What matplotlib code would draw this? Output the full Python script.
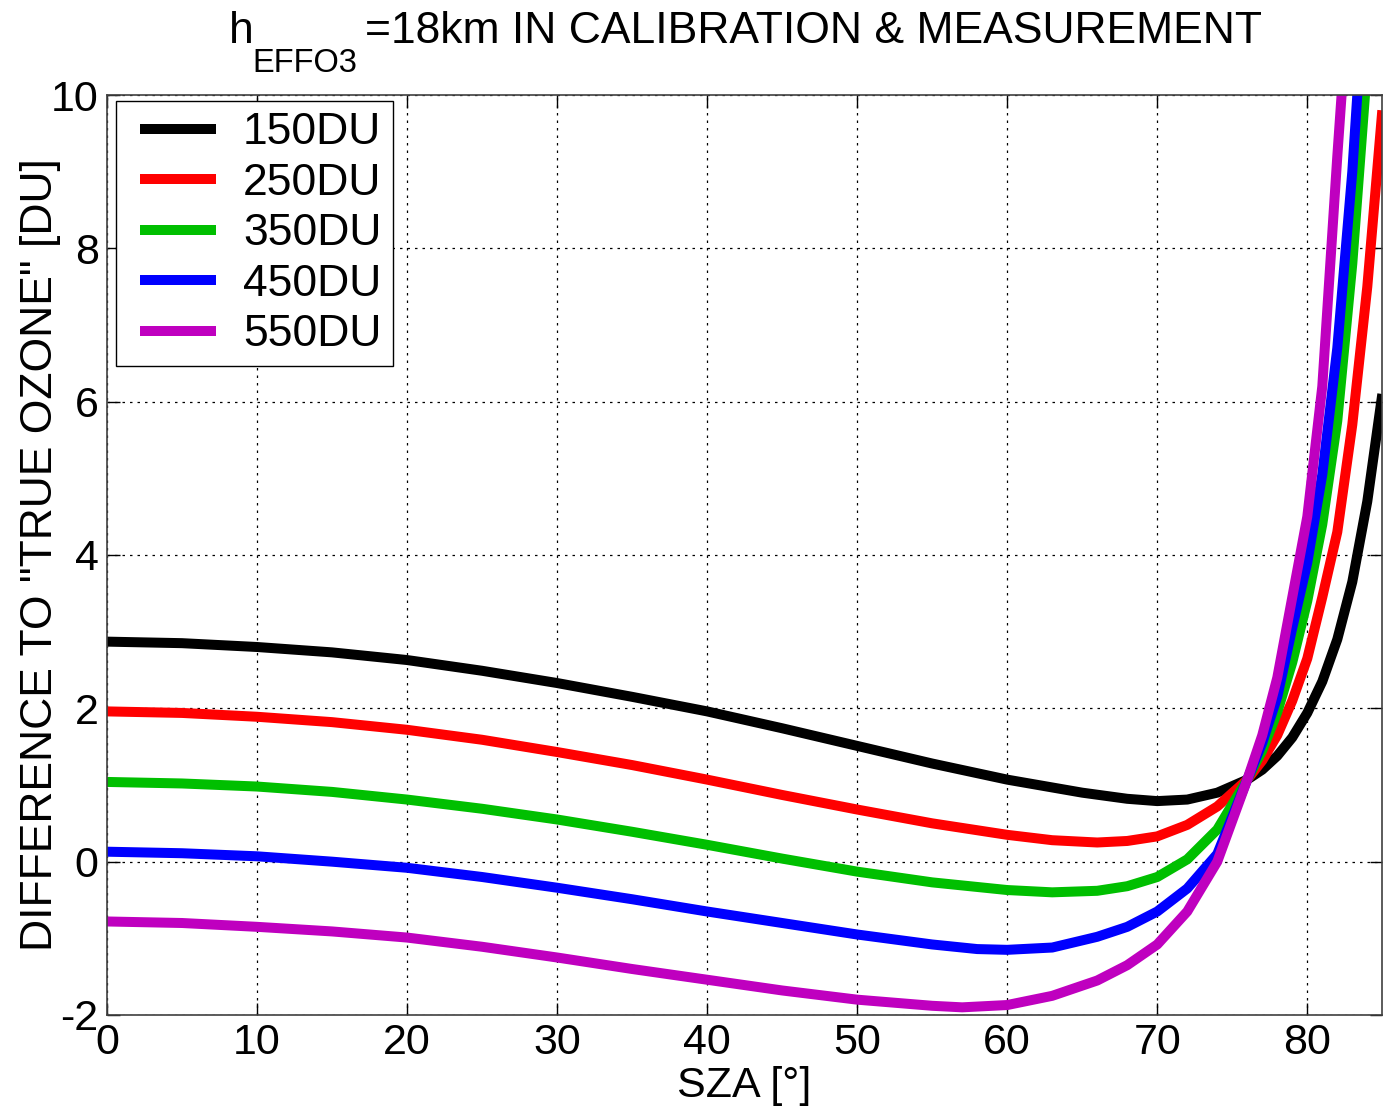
import numpy as np
import matplotlib
matplotlib.use("Agg")
import matplotlib.pyplot as plt
from matplotlib.legend_handler import HandlerLine2D

plt.rcParams['font.family'] = ['Liberation Sans', 'DejaVu Sans']
plt.rcParams['axes.unicode_minus'] = False

# SZA [deg] and difference to true ozone [DU] for each total ozone column
sza_150 = [0, 5, 10, 15, 20, 25, 30, 35, 40, 45, 50, 55, 60, 65, 68, 70, 72, 74, 76, 77, 78, 79, 80, 81, 82, 83, 84, 85]
d_150 = [2.87, 2.85, 2.80, 2.73, 2.63, 2.49, 2.33, 2.15, 1.96, 1.74, 1.51, 1.28, 1.07, 0.90, 0.82, 0.79, 0.81, 0.90,
         1.07, 1.20, 1.38, 1.62, 1.94, 2.35, 2.90, 3.65, 4.70, 6.10]

sza_250 = [0, 5, 10, 15, 20, 25, 30, 35, 40, 45, 50, 55, 60, 63, 66, 68, 70, 72, 74, 76, 77, 78, 79, 80, 81, 82, 83, 84, 85]
d_250 = [1.96, 1.94, 1.89, 1.82, 1.72, 1.59, 1.43, 1.26, 1.07, 0.87, 0.68, 0.50, 0.35, 0.28, 0.25, 0.27, 0.33, 0.48,
         0.72, 1.07, 1.32, 1.65, 2.10, 2.65, 3.45, 4.30, 5.70, 7.50, 9.80]

sza_350 = [0, 5, 10, 15, 20, 25, 30, 35, 40, 45, 50, 55, 60, 63, 66, 68, 70, 72, 74, 76, 77, 78, 79, 80, 81, 82, 83, 84]
d_350 = [1.04, 1.02, 0.98, 0.91, 0.81, 0.69, 0.55, 0.39, 0.22, 0.04, -0.13, -0.27, -0.37, -0.40, -0.38, -0.32, -0.20,
         0.03, 0.42, 1.07, 1.45, 1.95, 2.60, 3.40, 4.40, 5.75, 7.80, 10.4]

sza_450 = [0, 5, 10, 15, 20, 25, 30, 35, 40, 45, 50, 55, 58, 60, 63, 66, 68, 70, 72, 74, 76, 77, 78, 79, 80, 81, 82, 83, 84]
d_450 = [0.13, 0.11, 0.07, 0.00, -0.08, -0.20, -0.34, -0.49, -0.65, -0.80, -0.95, -1.08, -1.14, -1.15, -1.12, -0.98,
         -0.85, -0.65, -0.35, 0.10, 1.07, 1.55, 2.15, 3.05, 3.90, 5.05, 6.70, 9.00, 12.0]

sza_550 = [0, 5, 10, 15, 20, 25, 30, 35, 40, 45, 50, 55, 57, 60, 63, 66, 68, 70, 72, 74, 76, 77, 78, 79, 80, 81, 82, 83]
d_550 = [-0.78, -0.80, -0.85, -0.91, -0.99, -1.11, -1.25, -1.40, -1.54, -1.68, -1.80, -1.88, -1.90, -1.87, -1.75, -1.55,
         -1.35, -1.08, -0.65, 0.00, 1.07, 1.65, 2.40, 3.45, 4.50, 6.20, 9.20, 12.0]

labels = ['150DU', '250DU', '350DU', '450DU', '550DU']
colors = ['#000000', '#ff0000', '#00bf00', '#0000ff', '#bf00bf']
series = [(sza_150, d_150), (sza_250, d_250), (sza_350, d_350), (sza_450, d_450), (sza_550, d_550)]

W, H = 1383, 1110
fig = plt.figure(figsize=(W / 100, H / 100), dpi=100)
ax = fig.add_axes([107 / W, 1 - 1015 / H, 1 - 107 / W - 0.0005, (1015 - 95) / H])

lines = []
for (x, y), c, lab in zip(series, colors, labels):
    ln, = ax.plot(x, y, color=c, lw=7.2, label=lab, solid_joinstyle='round', solid_capstyle='butt')
    lines.append(ln)

ax.set_xlim(0, 85)
ax.set_ylim(-2, 10)
ax.set_xticks(np.arange(0, 81, 10))
ax.set_yticks(np.arange(-2, 11, 2))
ax.grid(True, color='black', linestyle=(0, (2, 4)), linewidth=0.9)
ax.tick_params(direction='in', top=True, right=True, length=9, width=1, labelsize=31, pad=6)
for s in ax.spines.values():
    s.set_color('#404040')
    s.set_linewidth(1.2)

ax.set_xlabel('SZA [°]', fontsize=31, labelpad=2)
ax.set_ylabel('DIFFERENCE TO "TRUE OZONE" [DU]', fontsize=32, labelpad=-7)

# title with a big, low subscript, placed piece by piece (pixel positions)
fig.text(229 / W, 1 - 43 / H, 'h', fontsize=32, va='baseline')
fig.text(252 / W, 1 - 72 / H, 'EFFO3', fontsize=23.5, va='baseline')
fig.text(365 / W, 1 - 43 / H, '=18km IN CALIBRATION & MEASUREMENT', fontsize=32, va='baseline')

hmap = {ln: HandlerLine2D(xpad=0.29) for ln in lines}
leg = ax.legend(loc='upper left', bbox_to_anchor=(9 / 1276, 1 - 6 / 920), borderaxespad=0,
                fontsize=32, fancybox=False, framealpha=1, edgecolor='black', handler_map=hmap,
                handlelength=2.0, handletextpad=0.61, labelspacing=0.215, borderpad=0.25)
leg.get_frame().set_linewidth(1.0)

fig.savefig('out.png', dpi=100)
